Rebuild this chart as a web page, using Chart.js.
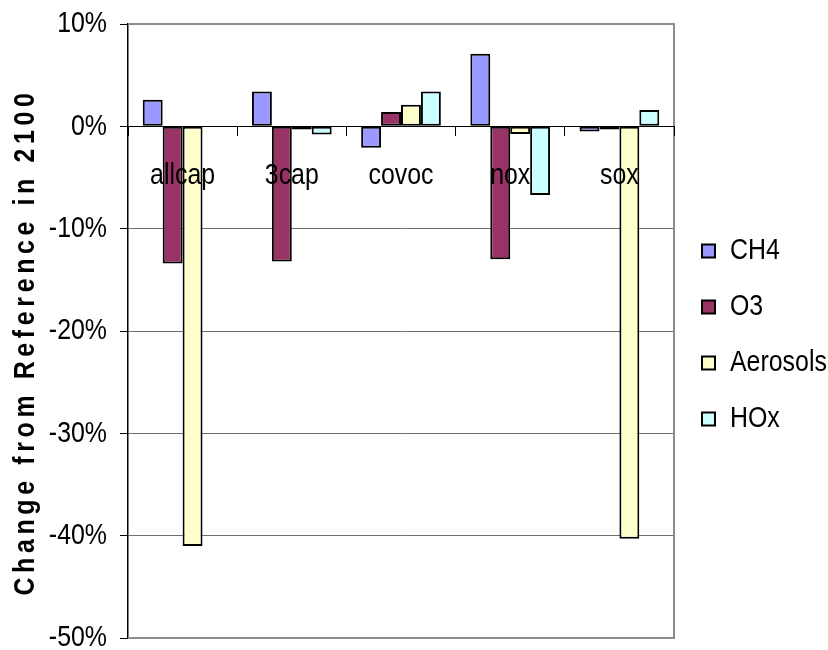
<!DOCTYPE html>
<html>
<head>
<meta charset="utf-8">
<script src="https://cdn.jsdelivr.net/npm/chart.js@4/dist/chart.umd.min.js"></script>
<style>
  html, body { margin: 0; padding: 0; background: #ffffff; }
  #wrap { width: 828px; height: 650px; }
</style>
</head>
<body>
<div id="wrap"><canvas id="chart" width="828" height="650"></canvas></div>
<script>
// Scenario categories and the change (percent) of each quantity from the reference in 2100
const categories = ['allcap', '3cap', 'covoc', 'nox', 'sox'];
const ch4      = [2.6, 3.4, -2.1, 7.1, -0.5];
const o3       = [-13.4, -13.2, 1.4, -13.0, -0.3];
const aerosols = [-41.0, -0.3, 2.1, -0.75, -40.3];
const hox      = [0, -0.8, 3.4, -6.7, 1.6];
const yTicks   = [10, 0, -10, -20, -30, -40, -50];

const FONT = '"Liberation Sans Narrow", "Arial Narrow", "Liberation Sans", Arial, sans-serif';
const FONT_SIZE = 30;
const AXIS_TITLE = 'Change from Reference in 2100';

// Condensed lettering: every label is drawn and measured at 83% of its normal width
const CONDENSE = 0.83;
(function () {
  const proto = CanvasRenderingContext2D.prototype;
  const fill = proto.fillText;
  const measure = proto.measureText;
  proto.fillText = function (text, x, y, maxWidth) {
    this.save();
    this.translate(x, y);
    this.scale(CONDENSE, 1);
    if (maxWidth === undefined || maxWidth === null) fill.call(this, text, 0, 0);
    else fill.call(this, text, 0, 0, maxWidth / CONDENSE);
    this.restore();
  };
  proto.measureText = function (text) {
    const m = measure.call(this, text);
    return {
      width: m.width * CONDENSE,
      actualBoundingBoxLeft: m.actualBoundingBoxLeft * CONDENSE,
      actualBoundingBoxRight: m.actualBoundingBoxRight * CONDENSE,
      actualBoundingBoxAscent: m.actualBoundingBoxAscent,
      actualBoundingBoxDescent: m.actualBoundingBoxDescent,
      fontBoundingBoxAscent: m.fontBoundingBoxAscent,
      fontBoundingBoxDescent: m.fontBoundingBoxDescent
    };
  };
})();

// Grey frame along the top, right and bottom of the plot area
const plotFrame = {
  id: 'plotFrame',
  beforeDatasetsDraw(chart) {
    const { ctx, chartArea: a } = chart;
    ctx.save();
    ctx.strokeStyle = '#8c8c8c';
    ctx.lineWidth = 2;
    ctx.beginPath();
    ctx.moveTo(a.left, a.top);
    ctx.lineTo(a.right, a.top);
    ctx.lineTo(a.right, a.bottom);
    ctx.lineTo(a.left, a.bottom);
    ctx.stroke();
    ctx.restore();
  }
};

// Bold, letter-spaced vertical title for the value axis
const valueAxisTitle = {
  id: 'valueAxisTitle',
  afterDraw(chart) {
    const { ctx, chartArea: a } = chart;
    ctx.save();
    ctx.translate(26, (a.top + a.bottom) / 2 + 11);
    ctx.rotate(-Math.PI / 2);
    ctx.font = 'bold ' + FONT_SIZE + 'px ' + FONT;
    if ('letterSpacing' in ctx) ctx.letterSpacing = '5.6px';
    ctx.fillStyle = '#000';
    ctx.textAlign = 'center';
    ctx.textBaseline = 'middle';
    ctx.fillText(AXIS_TITLE, 0, 0);
    ctx.restore();
  }
};

// Fixed legend column width and a small nudge of the legend block
const legendPlacement = {
  id: 'legendPlacement',
  beforeLayout(chart) {
    const lg = chart.legend;
    if (lg && !lg._fixedFit) {
      const fit = lg.fit;
      lg.fit = function () { fit.call(this); this.width = 154; };
      lg._fixedFit = true;
    }
  },
  afterLayout(chart) {
    const lg = chart.legend;
    lg.left += 2; lg.right += 2;
    lg.top += 4; lg.bottom += 4;
  }
};

const barStyle = { borderColor: '#000000', borderWidth: 2, borderSkipped: false };

new Chart(document.getElementById('chart'), {
  type: 'bar',
  data: {
    labels: categories,
    datasets: [
      { label: 'CH4', data: ch4, backgroundColor: '#9999ff', ...barStyle },
      { label: 'O3', data: o3, backgroundColor: '#993366', ...barStyle },
      { label: 'Aerosols', data: aerosols, backgroundColor: '#ffffcc', ...barStyle },
      { label: 'HOx', data: hox, backgroundColor: '#ccffff', ...barStyle }
    ]
  },
  options: {
    responsive: false,
    maintainAspectRatio: false,
    devicePixelRatio: 1,
    animation: false,
    layout: { padding: { top: 24, bottom: 12, left: 0, right: 0 } },
    datasets: { bar: { categoryPercentage: 0.73, barPercentage: 1.0 } },
    plugins: {
      tooltip: { enabled: false },
      title: { display: false },
      legend: {
        position: 'right',
        align: 'center',
        labels: {
          color: '#000',
          font: { family: FONT, size: FONT_SIZE },
          boxWidth: 13,
          boxHeight: 13,
          padding: 26
        }
      }
    },
    scales: {
      x: {
        position: { y: 0 },
        offset: true,
        grid: {
          display: true,
          drawOnChartArea: false,
          offset: true,
          tickLength: 9,
          color: '#000',
          tickColor: '#000',
          z: 1
        },
        border: { display: true, color: '#000', width: 1, z: 1 },
        ticks: {
          color: '#000',
          font: { family: FONT, size: FONT_SIZE },
          padding: 22,
          maxRotation: 0,
          autoSkip: false,
          z: 1
        },
        afterFit(s) { s.paddingLeft = 0; s.paddingRight = 0; }
      },
      y: {
        position: 'left',
        min: -50,
        max: 10,
        afterBuildTicks(s) { s.ticks = yTicks.map(v => ({ value: v })); },
        grid: {
          color: '#6e6e6e',
          lineWidth: 1,
          tickLength: 8,
          tickColor: '#000'
        },
        border: { display: true, color: '#000', width: 1.5 },
        ticks: {
          color: '#000',
          font: { family: FONT, size: FONT_SIZE },
          padding: 13,
          callback: v => v + '%'
        },
        afterFit(s) { s.width = 128; s.paddingTop = 0; s.paddingBottom = 0; }
      }
    }
  },
  plugins: [plotFrame, valueAxisTitle, legendPlacement]
});
</script>
</body>
</html>
